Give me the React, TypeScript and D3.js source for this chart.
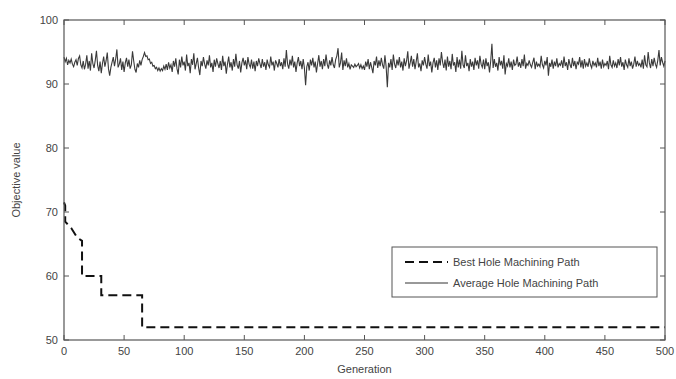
import React from "react";
import * as d3 from "d3";

const xTicks = [0, 50, 100, 150, 200, 250, 300, 350, 400, 450, 500];
const yTicks = [50, 60, 70, 80, 90, 100];

const bestGen = [0, 1, 1, 6, 11, 15, 15, 31, 31, 65, 65, 500];
const bestVal = [71.5, 71, 68.5, 67.5, 66, 65.5, 60, 60, 57, 57, 52, 52];

const avgVal = [
  94.2, 93.5, 94.0, 93.0, 93.7, 93.3, 93.9, 93.1, 92.7, 93.4, 93.8, 92.9, 94.0, 94.4, 93.0, 92.5, 93.6, 92.3, 93.1, 94.5,
  92.4, 93.6, 92.1, 94.8, 93.2, 92.5, 93.7, 95.2, 92.9, 92.0, 93.5, 91.7, 93.2, 94.3, 92.7, 93.6, 94.9, 92.4, 91.3, 92.6,
  93.4, 94.2, 92.8, 93.9, 95.4, 92.6, 93.1, 94.0, 92.2, 93.5, 91.9, 93.3, 94.1, 92.7, 93.8, 92.4, 93.0, 95.1, 93.6, 92.3,
  91.8, 93.2, 92.6, 93.7, 92.9, 93.8, 94.3, 94.9, 94.3, 94.4, 93.8, 93.9, 93.2, 93.4, 92.8, 92.9, 92.4, 92.6, 92.1, 92.5,
  92.0, 92.4, 92.1, 92.8, 92.3, 93.1, 92.2, 93.4, 92.5, 93.0, 91.9, 93.6, 92.7, 94.0, 92.4, 91.5, 93.8, 92.6, 94.3, 92.9,
  93.5, 92.1, 94.6, 92.8, 93.3, 91.7, 93.9, 93.0, 94.8, 92.3, 93.2, 94.1, 92.5, 91.4, 93.6, 92.8, 94.2, 93.1, 92.4, 93.7,
  92.9, 94.5, 92.6, 93.3, 91.9, 93.8, 92.7, 94.0, 93.2, 92.5, 93.6, 92.2, 94.4, 92.8, 93.5, 91.6, 93.1, 94.3, 92.6, 93.4,
  92.1, 93.9, 92.7, 94.7, 93.0, 92.4, 93.6, 91.8, 93.3, 94.1, 92.9, 93.7, 92.3, 94.2, 93.1, 92.6, 93.8, 92.4, 93.5, 92.0,
  93.6, 92.8, 94.0, 93.2, 92.5, 93.9, 92.7, 93.4, 92.2, 93.8, 93.0, 92.6, 94.3, 92.9, 93.5, 92.1, 93.7, 93.2, 92.6, 93.9,
  92.8, 93.4, 92.3, 94.0, 92.7, 95.3, 93.1, 92.4, 93.8, 92.9, 94.4, 92.6, 93.5, 91.9, 93.3, 94.2, 92.8, 93.6, 92.3, 93.9,
  92.5, 89.8, 92.7, 93.4, 92.1, 93.8, 92.9, 94.1, 92.6, 93.5, 91.8, 93.2, 94.5, 92.7, 93.6, 92.3, 93.9, 92.8, 94.6, 93.1,
  92.4, 93.7, 92.9, 94.2, 93.0, 92.5, 93.8, 94.4, 95.6, 92.6, 93.3, 94.9, 92.2, 93.7, 92.8, 94.0, 92.6, 93.2, 92.3, 93.0,
  92.8, 92.6, 93.1, 92.7, 92.9, 93.2, 92.5, 93.0, 92.4, 92.8, 92.2, 93.5, 92.7, 93.9, 92.3, 93.4, 92.6, 91.7, 93.6, 92.9,
  94.3, 92.5, 93.7, 92.8, 94.1, 93.0, 92.4, 94.5, 92.7, 89.5, 93.3, 92.6, 93.9, 92.2, 94.6, 93.1, 92.5, 93.8, 92.9, 94.2,
  92.6, 93.5, 92.1, 94.0, 92.8, 93.6, 95.1, 92.4, 93.3, 94.4, 92.7, 93.9, 92.3, 93.5, 94.8, 92.6, 93.2, 92.0, 93.7, 92.9,
  94.2, 93.1, 92.4, 94.6, 92.8, 93.5, 91.8, 93.3, 94.1, 92.6, 93.7, 92.2, 94.0, 92.9, 95.0, 93.4, 92.5, 93.8, 92.1, 94.3,
  92.7, 93.6, 92.3, 94.7, 92.9, 93.4, 91.9, 94.2, 92.6, 93.8, 92.4, 95.2, 93.0, 92.5, 94.5, 92.8, 93.3, 92.0, 93.9, 92.7,
  93.5, 92.2, 94.1, 92.9, 93.7, 92.4, 94.4, 93.1, 92.6, 93.8, 92.3, 94.0, 92.8, 93.4, 91.8, 93.6, 96.3, 92.5, 93.9, 92.7,
  93.3, 92.1, 94.2, 92.9, 93.6, 92.4, 94.5, 91.5, 93.2, 92.8, 94.0, 92.6, 93.5, 92.2, 93.8, 92.9, 93.1, 94.3, 92.7, 93.4,
  92.5, 93.9, 92.8, 94.6, 92.4, 93.2, 92.9, 93.7, 93.0, 92.6, 93.4, 94.1, 92.3, 93.5, 92.8, 93.1, 92.7, 94.4, 93.0, 92.5,
  93.6, 92.9, 94.2, 91.3, 93.3, 92.7, 93.8, 92.4, 93.5, 92.8, 94.0, 92.6, 93.2, 92.9, 93.7, 92.5, 94.3, 92.8, 93.4, 92.2,
  93.9, 93.0, 92.5, 94.1, 92.8, 93.6, 92.3, 93.4, 93.1, 94.2, 92.6, 93.7, 92.4, 93.9, 92.8, 93.3, 92.7, 94.0, 93.0, 92.5,
  93.6, 92.9, 93.3, 92.6, 94.1, 92.8, 93.5, 92.4, 93.8, 92.7, 93.2, 92.9, 93.6, 92.3, 94.4, 93.0, 92.6, 93.7, 92.8, 93.3,
  92.5, 93.9, 92.9, 94.2, 92.7, 93.4, 92.2, 93.8, 93.0, 92.6, 94.0, 92.8, 93.5, 92.4, 93.1, 94.3, 92.7, 93.6, 92.9, 93.2,
  92.6, 93.8, 92.4, 94.5, 93.0, 92.7, 95.0, 93.3, 92.5, 93.9, 92.8, 94.1, 93.1, 92.6, 93.7, 95.3, 92.9, 94.2, 93.4, 92.8, 93.6,
];

const legendLabels = ["Best Hole Machining Path", "Average Hole Machining Path"];

const W = 676;
const H = 379;
const left = 64;
const right = 665;
const top = 20;
const bottom = 340;

export default function App() {
  const x = d3.scaleLinear().domain([0, 500]).range([left, right]);
  const y = d3.scaleLinear().domain([50, 100]).range([bottom, top]);

  const avgLine = d3
    .line<number>()
    .x((_, i) => x(i))
    .y((d) => y(d));
  const bestLine = d3
    .line<number>()
    .x((_, i) => x(bestGen[i]))
    .y((d) => y(d));

  const axisColor = "#555";
  const textColor = "#444";
  const font = "Arial, 'Liberation Sans', sans-serif";
  const tick = 5;

  const lx = 392, ly = 247, lw = 265, lh = 50;

  return (
    <svg
      width={W}
      height={H}
      style={{ position: "absolute", left: 0, top: 0, background: "#fff" }}
      fontFamily={font}
    >
      <rect x={0} y={0} width={W} height={H} fill="#fff" />
      <path d={avgLine(avgVal) || ""} fill="none" stroke="#3a3a3a" strokeWidth={1.1} />
      <path
        d={bestLine(bestVal) || ""}
        fill="none"
        stroke="#111"
        strokeWidth={2}
        strokeDasharray="9,5"
      />
      <rect x={left} y={top} width={right - left} height={bottom - top} fill="none" stroke={axisColor} strokeWidth={1.2} />
      {xTicks.map((t) => (
        <g key={"x" + t}>
          <line x1={x(t)} x2={x(t)} y1={bottom} y2={bottom - tick} stroke={axisColor} />
          <line x1={x(t)} x2={x(t)} y1={top} y2={top + tick} stroke={axisColor} />
          <text x={x(t)} y={bottom + 15} textAnchor="middle" fontSize={11} fill={textColor}>
            {t}
          </text>
        </g>
      ))}
      {yTicks.map((t) => (
        <g key={"y" + t}>
          <line x1={left} x2={left + tick} y1={y(t)} y2={y(t)} stroke={axisColor} />
          <line x1={right} x2={right - tick} y1={y(t)} y2={y(t)} stroke={axisColor} />
          <text x={left - 6} y={y(t) + 4} textAnchor="end" fontSize={11} fill={textColor}>
            {t}
          </text>
        </g>
      ))}
      <text x={(left + right) / 2} y={373} textAnchor="middle" fontSize={11} fill={textColor}>
        Generation
      </text>
      <text
        transform={`translate(20,${(top + bottom) / 2}) rotate(-90)`}
        textAnchor="middle"
        fontSize={11}
        fill={textColor}
      >
        Objective value
      </text>
      <rect x={lx} y={ly} width={lw} height={lh} fill="#fff" stroke={axisColor} strokeWidth={1} />
      <line x1={lx + 13} x2={lx + 56} y1={ly + 15} y2={ly + 15} stroke="#111" strokeWidth={2} strokeDasharray="9,5" />
      <line x1={lx + 13} x2={lx + 56} y1={ly + 36} y2={ly + 36} stroke="#333" strokeWidth={1} />
      {legendLabels.map((l, i) => (
        <text key={l} x={lx + 61} y={ly + 19 + i * 21} fontSize={11} fill={textColor}>
          {l}
        </text>
      ))}
    </svg>
  );
}
